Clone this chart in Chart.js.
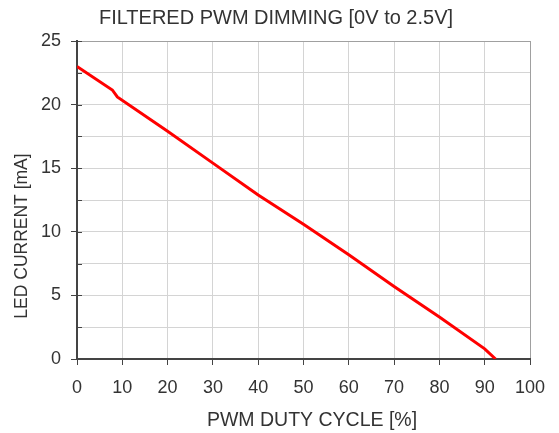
<!DOCTYPE html>
<html>
<head>
<meta charset="utf-8">
<script src="https://cdn.jsdelivr.net/npm/chart.js@4"></script>
<style>
html, body { margin: 0; padding: 0; background: #fff; }
#wrap { width: 559px; height: 433px; }
</style>
</head>
<body>
<div id="wrap"><canvas id="chart"></canvas></div>
<script>
// values
const dutyCycle = [0, 7.8, 8.9, 20, 30, 40, 50, 60, 70, 80, 90, 92.4];
const ledCurrent = [23.0, 21.15, 20.6, 17.9, 15.4, 12.9, 10.6, 8.2, 5.7, 3.3, 0.8, 0];

const xTicks = [0, 10, 20, 30, 40, 50, 60, 70, 80, 90, 100];
const yTicks = [0, 5, 10, 15, 20, 25];
const yGrid = [0, 2.5, 5, 7.5, 10, 12.5, 15, 17.5, 20, 22.5, 25];

const titleText = 'FILTERED PWM DIMMING [0V to 2.5V]';
const xTitle = 'PWM DUTY CYCLE [%]';
const yTitle = 'LED CURRENT [mA]';

const textColor = '#333';
const axisColor = '#444';

// inward tick marks on the y axis + axis titles
const extras = {
    id: 'extras',
    afterDraw(chart) {
        const ctx = chart.ctx;
        const y = chart.scales.y;
        const left = chart.chartArea.left;
        ctx.save();
        ctx.strokeStyle = axisColor;
        ctx.lineWidth = 1;
        yGrid.forEach(v => {
            const py = Math.round(y.getPixelForValue(v)) + 0.5;
            ctx.beginPath();
            ctx.moveTo(left, py);
            ctx.lineTo(left + 5, py);
            ctx.stroke();
        });

        ctx.fillStyle = textColor;
        ctx.textAlign = 'center';
        ctx.textBaseline = 'middle';
        ctx.font = '19.5px "Liberation Sans"';
        ctx.fillText(xTitle, 312, 421);

        ctx.translate(22, 236);
        ctx.rotate(-Math.PI / 2);
        ctx.font = '17.5px "Liberation Sans"';
        ctx.fillText(yTitle, 0, 0);
        ctx.restore();
    }
};

new Chart(document.getElementById('chart'), {
    type: 'line',
    data: {
        datasets: [{
            data: dutyCycle.map((x, i) => ({ x: x, y: ledCurrent[i] })),
            borderColor: '#ff0000',
            borderWidth: 3,
            pointRadius: 0,
            tension: 0,
            fill: false
        }]
    },
    options: {
        responsive: true,
        maintainAspectRatio: false,
        animation: false,
        devicePixelRatio: 1,
        layout: { padding: { left: 22, right: 29, top: 0, bottom: 0 } },
        plugins: {
            legend: { display: false },
            tooltip: { enabled: false },
            title: {
                display: true,
                text: titleText,
                color: textColor,
                font: { family: 'Liberation Sans', size: 20, weight: 'normal' },
                padding: { top: 6, bottom: 11 }
            }
        },
        scales: {
            x: {
                type: 'linear',
                min: 0,
                max: 100,
                afterBuildTicks: s => { s.ticks = xTicks.map(v => ({ value: v })); },
                afterFit: s => { s.height = 74; },
                ticks: {
                    color: textColor,
                    font: { family: 'Liberation Sans', size: 18 },
                    padding: 12,
                    maxRotation: 0
                },
                grid: {
                    color: c => c.tick && c.tick.value === 100 ? '#a0a0a0' : '#d4d4d4',
                    lineWidth: 1,
                    tickLength: 6,
                    tickColor: axisColor
                },
                border: { color: axisColor, width: 2 }
            },
            y: {
                type: 'linear',
                min: 0,
                max: 25,
                afterBuildTicks: s => { s.ticks = yGrid.map(v => ({ value: v })); },
                afterFit: s => { s.width = 55; },
                ticks: {
                    color: textColor,
                    font: { family: 'Liberation Sans', size: 18 },
                    padding: 10,
                    callback: v => yTicks.includes(v) ? String(v) : ''
                },
                grid: {
                    color: c => c.tick && c.tick.value === 25 ? '#a0a0a0' : '#d4d4d4',
                    lineWidth: 1,
                    tickLength: 6,
                    tickColor: c => c.tick && yTicks.includes(c.tick.value) ? axisColor : 'rgba(0,0,0,0)'
                },
                border: { color: axisColor, width: 2 }
            }
        }
    },
    plugins: [extras]
});
</script>
</body>
</html>
